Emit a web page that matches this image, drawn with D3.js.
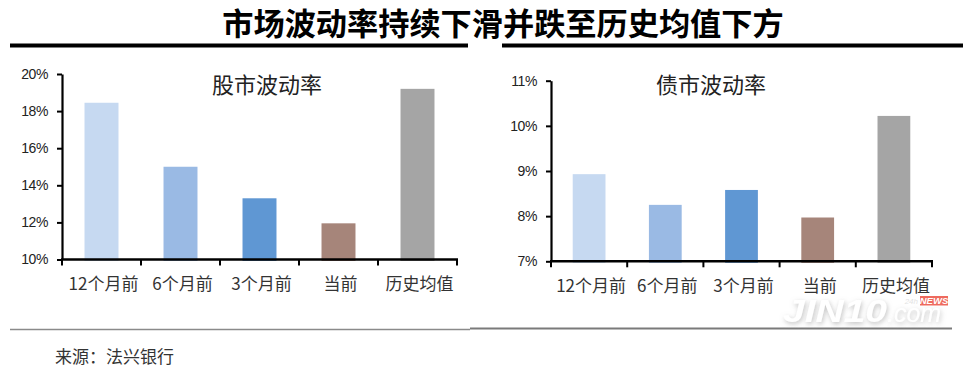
<!DOCTYPE html>
<html>
<head>
<meta charset="utf-8">
<script src="https://cdn.jsdelivr.net/npm/d3@7"></script>
<style>
  html, body { margin: 0; padding: 0; background: #fff; }
  svg { display: block; }
  .tick text { font-family: "Liberation Sans", Arial, sans-serif; font-size: 14px; fill: #222; letter-spacing: -0.4px; }
  .cjk { font-family: "Noto Sans CJK SC", sans-serif; }
</style>
</head>
<body>
<div class="container"></div>
<script>
// chart data
var categories = ["12个月前", "6个月前", "3个月前", "当前", "历史均值"];
var stockValues = [18.45, 15.0, 13.3, 11.95, 19.2];
var bondValues = [8.93, 8.25, 8.58, 7.97, 10.22];
var stockTicks = [10, 12, 14, 16, 18, 20];
var bondTicks = [7, 8, 9, 10, 11];

var barColors = ["#c6d9f1", "#9abae4", "#5f97d3", "#a6857a", "#a5a5a5"];

var width = 975;
var height = 368;

var svg = d3.select(".container").append("svg")
    .attr("width", width)
    .attr("height", height);

// main title
svg.append("text")
    .classed("cjk", true)
    .attr("x", 503)
    .attr("y", 21)
    .attr("text-anchor", "middle")
    .attr("dominant-baseline", "central")
    .attr("font-size", 31.2)
    .attr("font-weight", 700)
    .attr("fill", "#000")
    .text("市场波动率持续下滑并跌至历史均值下方");

// thick black rules under the title
svg.append("rect").attr("x", 10).attr("y", 43.5).attr("width", 458).attr("height", 4).attr("fill", "#000");
svg.append("rect").attr("x", 502).attr("y", 43.5).attr("width", 461).attr("height", 4).attr("fill", "#000");

function drawPanel(opts) {
    var g = svg.append("g");

    var x = d3.scaleBand()
        .domain(categories)
        .range([opts.left, opts.right])
        .paddingInner(0.57)
        .paddingOuter(0.285);

    var y = d3.scaleLinear()
        .domain(d3.extent(opts.ticks))
        .range([opts.bottom, opts.top]);

    // bars
    g.selectAll("rect.bar")
        .data(opts.values)
        .enter()
        .append("rect")
        .classed("bar", true)
        .attr("x", function(d, i) { return x(categories[i]); })
        .attr("width", x.bandwidth())
        .attr("y", function(d) { return y(d); })
        .attr("height", function(d) { return opts.bottom + 1.5 - y(d); })
        .attr("fill", function(d, i) { return barColors[i]; });

    // y axis
    var yAxis = g.append("g")
        .attr("transform", "translate(" + opts.left + ",0)")
        .call(d3.axisLeft(y)
            .tickValues(opts.ticks)
            .tickFormat(function(d) { return d + "%"; })
            .tickSize(5)
            .tickSizeOuter(0)
            .tickPadding(9));
    yAxis.select(".domain").attr("stroke", "#000").attr("stroke-width", 2.2);
    yAxis.selectAll(".tick line").attr("stroke", "#000").attr("stroke-width", 2);

    // x axis line with tick marks at category boundaries
    var boundaries = d3.range(categories.length + 1).map(function(k) {
        return opts.left + k * x.step();
    });
    g.append("line")
        .attr("x1", opts.left - 1)
        .attr("x2", opts.right + 1)
        .attr("y1", opts.bottom)
        .attr("y2", opts.bottom)
        .attr("stroke", "#000")
        .attr("stroke-width", 2.5);
    g.selectAll("line.xtick")
        .data(boundaries)
        .enter()
        .append("line")
        .classed("xtick", true)
        .attr("x1", function(d) { return d; })
        .attr("x2", function(d) { return d; })
        .attr("y1", opts.bottom)
        .attr("y2", opts.bottom + 6)
        .attr("stroke", "#000")
        .attr("stroke-width", 2);

    // category labels
    g.selectAll("text.xlab")
        .data(categories)
        .enter()
        .append("text")
        .classed("xlab cjk", true)
        .attr("x", function(d) { return x(d) + x.bandwidth() / 2 + 2; })
        .attr("y", opts.bottom + 23)
        .attr("text-anchor", "middle")
        .attr("dominant-baseline", "central")
        .attr("font-size", 17)
        .attr("fill", "#333")
        .text(function(d) { return d; });

    // panel title
    g.append("text")
        .classed("cjk", true)
        .attr("x", opts.titleX)
        .attr("y", 83)
        .attr("text-anchor", "middle")
        .attr("dominant-baseline", "central")
        .attr("font-size", 22)
        .attr("fill", "#222")
        .text(opts.title);
}

drawPanel({ left: 62, right: 457, top: 74, bottom: 259.5, ticks: stockTicks, values: stockValues, title: "股市波动率", titleX: 267 });
drawPanel({ left: 551, right: 932, top: 80.7, bottom: 261.3, ticks: bondTicks, values: bondValues, title: "债市波动率", titleX: 711 });

// bottom grey rule
svg.append("line").attr("x1", 10).attr("x2", 470).attr("y1", 329.5).attr("y2", 329.5)
    .attr("stroke", "#8a8a8a").attr("stroke-width", 1.5);
svg.append("line").attr("x1", 470).attr("x2", 952).attr("y1", 328.5).attr("y2", 328.5)
    .attr("stroke", "#7a7a7a").attr("stroke-width", 2.2);

// watermark
var defs = svg.append("defs");
var f = defs.append("filter").attr("id", "wm").attr("x", "-20%").attr("y", "-40%").attr("width", "140%").attr("height", "180%");
f.append("feDropShadow").attr("dx", 1).attr("dy", 2).attr("stdDeviation", 2.5)
    .attr("flood-color", "#9a9a9a").attr("flood-opacity", 0.6);

var wm = svg.append("g").attr("filter", "url(#wm)");
wm.append("text")
    .attr("x", 783).attr("y", 322)
    .attr("font-family", "Liberation Sans, Arial, sans-serif")
    .attr("font-size", 32).attr("font-weight", 700).attr("font-style", "italic")
    .attr("textLength", 104).attr("lengthAdjust", "spacingAndGlyphs")
    .attr("fill", "#fff")
    .text("JIN10");
wm.append("text")
    .attr("x", 887).attr("y", 322)
    .attr("font-family", "Liberation Sans, Arial, sans-serif")
    .attr("font-size", 25).attr("font-style", "italic")
    .attr("fill", "#fff")
    .text(".com");
svg.append("text")
    .attr("x", 918).attr("y", 304)
    .attr("text-anchor", "end")
    .attr("font-family", "Liberation Sans, Arial, sans-serif")
    .attr("font-size", 8).attr("font-style", "italic")
    .attr("fill", "#e4e4e4")
    .text("24h");
svg.append("rect").attr("x", 920).attr("y", 296).attr("width", 28).attr("height", 9.5).attr("fill", "#ee6a5e");
svg.append("text")
    .attr("x", 934).attr("y", 304)
    .attr("text-anchor", "middle")
    .attr("font-family", "Liberation Sans, Arial, sans-serif")
    .attr("font-size", 9.5).attr("font-weight", 700).attr("font-style", "italic")
    .attr("fill", "#fff")
    .text("NEWS");

// source
svg.append("text")
    .classed("cjk", true)
    .attr("x", 55)
    .attr("y", 355)
    .attr("dominant-baseline", "central")
    .attr("font-size", 17)
    .attr("fill", "#333")
    .text("来源：法兴银行");
</script>
</body>
</html>
